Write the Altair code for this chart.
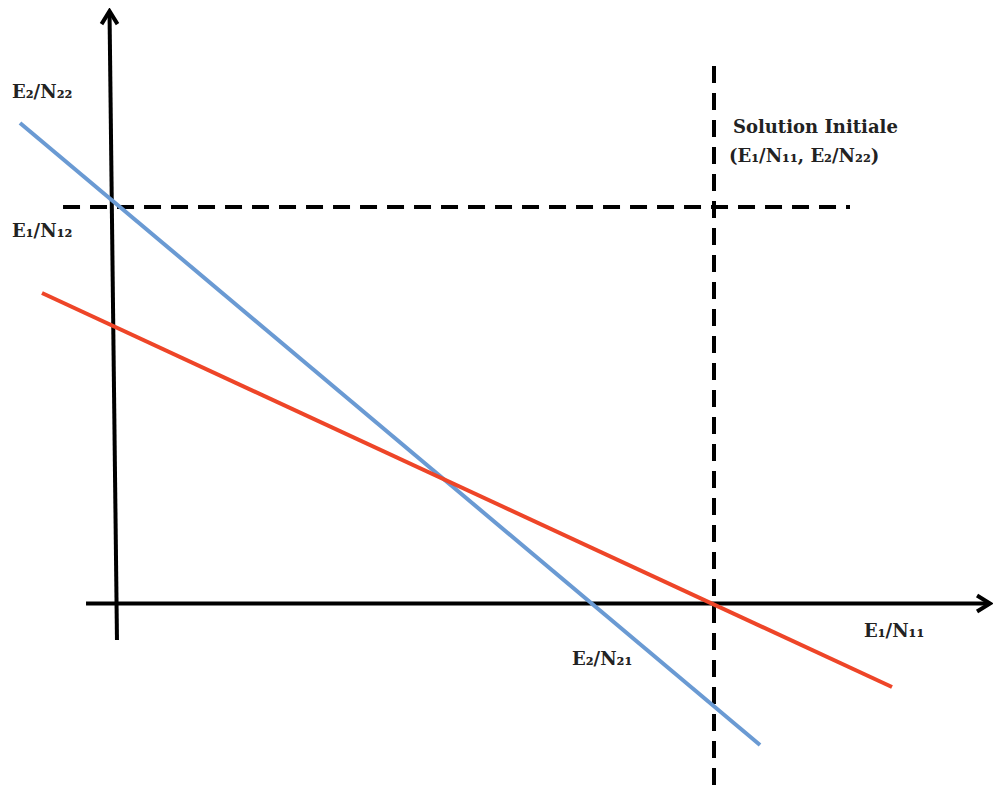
import altair as alt
import pandas as pd

# ---- diagram values (abstract units: origin at the axes crossing,
#      "Solution Initiale" at (10, 10)) ----
line_name = ["bleue", "bleue", "rouge", "rouge"]
line_x = [-1.615, 10.770, -1.247, 12.979]
line_y = [12.12, -3.569, 7.831, -2.106]
line_domain = ["bleue", "rouge"]
line_colors = ["#6a9ad3", "#ee4528"]

# axes (horizontal, vertical) as segments
axis_x1 = [-0.51, 0.008]
axis_y1 = [0.0, -0.92]
axis_x2 = [14.62, -0.117]
axis_y2 = [0.0, 14.94]
arrow_dir = ["right", "up"]

# dashed guides (horizontal at E1/N12 level, vertical at E1/N11)
dash_x1 = [-0.895, 10.0]
dash_y1 = [10.0, 13.556]
dash_x2 = [12.276, 10.0]
dash_y2 = [10.0, -4.855]

# labels
label_text = ["E₂/N₂₂", "E₁/N₁₂", "Solution Initiale", "(E₁/N₁₁, E₂/N₂₂)", "E₂/N₂₁", "E₁/N₁₁"]
label_x = [-1.749, -1.749, 10.317, 10.25, 7.623, 12.51]
label_y = [12.875, 9.37, 11.99, 11.26, -1.425, -0.719]

# ---- layout (page pixel mapping) ----
W, H = 985, 780
X0, Y0, UX, UY = 116.5, 603.5, 59.75, 39.65
xdom = [(8 - X0) / UX, (8 + W - X0) / UX]
ydom = [(Y0 - (8 + H)) / UY, (Y0 - 8) / UY]
xs = alt.Scale(domain=xdom, nice=False, zero=False)
ys = alt.Scale(domain=ydom, nice=False, zero=False)

lines_df = pd.DataFrame({"name": line_name, "x": line_x, "y": line_y})
axes_df = pd.DataFrame({"x": axis_x1, "y": axis_y1, "x2": axis_x2, "y2": axis_y2, "dir": arrow_dir})
dash_df = pd.DataFrame({"x": dash_x1, "y": dash_y1, "x2": dash_x2, "y2": dash_y2})
lab_df = pd.DataFrame({"t": label_text, "x": label_x, "y": label_y})

axes = alt.Chart(axes_df).mark_rule(color="black", strokeWidth=4).encode(
    x=alt.X("x:Q", scale=xs, axis=None),
    y=alt.Y("y:Q", scale=ys, axis=None),
    x2="x2:Q",
    y2="y2:Q",
)

up_path = "M -0.8 1.3 L 0 0 L 0.8 1.3"
right_path = "M -1.3 -0.8 L 0 0 L -1.3 0.8"

arrow_up = alt.Chart(axes_df[axes_df["dir"] == "up"]).mark_point(
    shape=up_path, size=400, filled=False, stroke="black", strokeWidth=4, opacity=1
).encode(x=alt.X("x2:Q", scale=xs, axis=None), y=alt.Y("y2:Q", scale=ys, axis=None))

arrow_right = alt.Chart(axes_df[axes_df["dir"] == "right"]).mark_point(
    shape=right_path, size=400, filled=False, stroke="black", strokeWidth=4, opacity=1
).encode(x=alt.X("x2:Q", scale=xs, axis=None), y=alt.Y("y2:Q", scale=ys, axis=None))

dashes = alt.Chart(dash_df).mark_rule(color="black", strokeWidth=4, strokeDash=[17, 10]).encode(
    x=alt.X("x:Q", scale=xs, axis=None),
    y=alt.Y("y:Q", scale=ys, axis=None),
    x2="x2:Q",
    y2="y2:Q",
)

lines = alt.Chart(lines_df).mark_line(strokeWidth=4).encode(
    x=alt.X("x:Q", scale=xs, axis=None),
    y=alt.Y("y:Q", scale=ys, axis=None),
    color=alt.Color("name:N", scale=alt.Scale(domain=line_domain, range=line_colors), legend=None),
    detail="name:N",
)

labels = alt.Chart(lab_df).mark_text(
    align="left", baseline="middle", font="DejaVu Serif", fontSize=18, fontWeight="bold",
    color="#222222"
).encode(
    x=alt.X("x:Q", scale=xs, axis=None),
    y=alt.Y("y:Q", scale=ys, axis=None),
    text="t:N",
)

chart = alt.layer(axes, dashes, lines, arrow_up, arrow_right, labels).properties(
    width=W, height=H, padding=0, autosize=alt.AutoSizeParams(type="none")
).configure_view(stroke="transparent")

chart.save("out.html", embed_options={"renderer": "svg", "actions": False})
